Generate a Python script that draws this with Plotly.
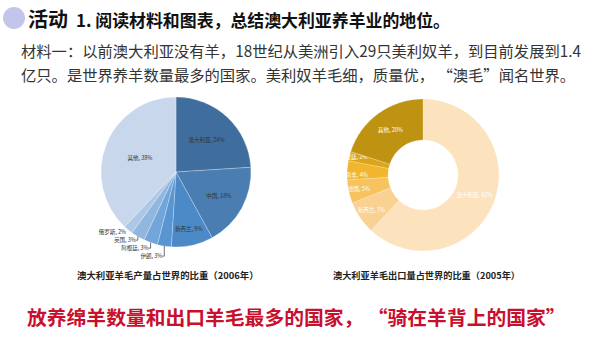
import plotly.graph_objects as go

# Data
prod_labels = ["澳大利亚", "中国", "新西兰", "伊朗", "阿根廷", "英国", "俄罗斯", "其他"]
prod_values = [24, 18, 9, 3, 3, 3, 2, 38]
prod_colors = ["#3f6d9d", "#4a7eb3", "#4c89c7", "#5896d3", "#72a5da", "#92b7df", "#adc7e6", "#c9d7ec"]

exp_labels = ["澳大利亚", "新西兰", "德国", "南非", "阿根廷", "其他"]
exp_values = [62, 7, 5, 4, 2, 20]
exp_colors = ["#fde3bd", "#f9d193", "#f6c35e", "#f1b52e", "#dba61c", "#bf9312"]

title_a = "活动"
title_b = "1. 阅读材料和图表，总结澳大利亚养羊业的地位。"
material_1 = "材料一：以前澳大利亚没有羊，18世纪从美洲引入29只美利奴羊，到目前发展到1.4"
material_2 = "亿只。是世界养羊数量最多的国家。美利奴羊毛细，质量优， “澳毛”闻名世界。"
cap_left = "澳大利亚羊毛产量占世界的比重（2006年）"
cap_right = "澳大利亚羊毛出口量占世界的比重（2005年）"
bottom_text = "放养绵羊数量和出口羊毛最多的国家， “骑在羊背上的国家”"

FONT = "Noto Sans CJK SC"

W, H = 600, 338

def px_x(x):
    return x / W

def px_y(y):
    return 1 - y / H

fig = go.Figure()

prod_pos = ["inside", "inside", "inside", "outside", "outside", "outside", "outside", "inside"]
fig.add_trace(go.Pie(
    labels=prod_labels, values=prod_values,
    marker=dict(colors=prod_colors, line=dict(color="rgba(255,255,255,0.5)", width=0.5)),
    sort=False, direction="clockwise", rotation=0,
    domain=dict(x=[px_x(101), px_x(251)], y=[px_y(247), px_y(97)]),
    texttemplate="%{label}, %{value}%",
    textposition=prod_pos,
    insidetextorientation="horizontal",
    textfont=dict(family=FONT, size=5.5, color="#333333"),
    outsidetextfont=dict(family=FONT, size=5.5, color="#333333"),
    showlegend=False, hoverinfo="label+percent",
))

fig.add_trace(go.Pie(
    labels=exp_labels, values=exp_values, hole=0.46,
    marker=dict(colors=exp_colors, line=dict(color="rgba(255,255,255,0.4)", width=0.5)),
    sort=False, direction="clockwise", rotation=0,
    domain=dict(x=[px_x(347), px_x(499)], y=[px_y(251), px_y(99)]),
    texttemplate="%{label}, %{value}%",
    textposition="inside",
    insidetextorientation="horizontal",
    textfont=dict(family=FONT, size=5.5, color="#ffffff"),
    showlegend=False, hoverinfo="label+percent",
))

ann = []
ann.append(dict(x=px_x(26), y=px_y(19), xref="paper", yref="paper", xanchor="left", yanchor="middle",
                text="<b>" + title_a + "</b>", showarrow=False,
                font=dict(family=FONT, size=20, color="#111111")))
ann.append(dict(x=px_x(74), y=px_y(20), xref="paper", yref="paper", xanchor="left", yanchor="middle",
                text="<b>" + title_b + "</b>", showarrow=False,
                font=dict(family=FONT, size=16.9, color="#111111")))
ann.append(dict(x=px_x(19), y=px_y(50), xref="paper", yref="paper", xanchor="left", yanchor="middle",
                text=material_1, showarrow=False,
                font=dict(family=FONT, size=15.3, color="#333333")))
ann.append(dict(x=px_x(19), y=px_y(74), xref="paper", yref="paper", xanchor="left", yanchor="middle",
                text=material_2, showarrow=False,
                font=dict(family=FONT, size=15.3, color="#333333")))
ann.append(dict(x=px_x(168), y=px_y(275), xref="paper", yref="paper", xanchor="center", yanchor="middle",
                text="<b>" + cap_left + "</b>", showarrow=False,
                font=dict(family=FONT, size=9.4, color="#222222")))
ann.append(dict(x=px_x(426), y=px_y(275), xref="paper", yref="paper", xanchor="center", yanchor="middle",
                text="<b>" + cap_right + "</b>", showarrow=False,
                font=dict(family=FONT, size=9.2, color="#222222")))
ann.append(dict(x=px_x(296), y=px_y(316), xref="paper", yref="paper", xanchor="center", yanchor="middle",
                text="<b>" + bottom_text + "</b>", showarrow=False,
                font=dict(family=FONT, size=19.8, color="#c8102e")))

shapes = [dict(type="circle", xref="paper", yref="paper",
               x0=px_x(3), x1=px_x(25), y0=px_y(29), y1=px_y(7),
               fillcolor="#c3c6ea", line=dict(width=0), layer="below")]

fig.update_layout(
    width=W, height=H,
    margin=dict(l=0, r=0, t=0, b=0),
    paper_bgcolor="#ffffff", plot_bgcolor="#ffffff",
    annotations=ann, shapes=shapes,
    uniformtext=dict(minsize=5.5, mode="show"),
)

fig.write_html("out.html")
